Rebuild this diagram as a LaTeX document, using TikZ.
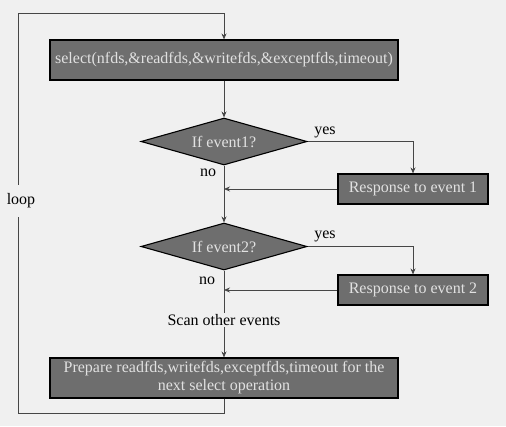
\documentclass[tikz,border=0pt]{standalone}
\usepackage{fontspec}
\setmainfont{Liberation Serif}
\usetikzlibrary{shapes.geometric,arrows.meta}
\definecolor{pagebg}{RGB}{240,240,240}
\definecolor{boxfill}{RGB}{110,110,110}
\definecolor{boxtext}{RGB}{225,225,225}
\definecolor{wire}{RGB}{70,70,70}

\begin{document}
\begin{tikzpicture}[x=1pt,y=-1pt,font=\fontsize{16}{17}\selectfont,
		opbox/.style={draw=black,line width=1.1pt,fill=boxfill,text=boxtext,rectangle,inner sep=2pt},
		testbox/.style={draw=black,line width=1.1pt,fill=boxfill,text=boxtext,diamond,aspect=3.5,inner sep=0pt,minimum width=166pt,minimum height=47pt},
		wire/.style={draw=wire,line width=0.8pt},
		tip/.style={-{Stealth[length=6pt,width=5pt]}}]
		\fill[pagebg] (0,0) rectangle (506,426);
		\useasboundingbox (0,0) rectangle (506,426);
		% boxes
		\node[opbox,minimum width=348pt,minimum height=40pt] (sel) at (224,60) {select(nfds,\&readfds,\&writefds,\&exceptfds,timeout)};
		\node[testbox] (ev1) at (224,141.5) {If event1?};
		\node[opbox,minimum width=150pt,minimum height=30pt] (resp1) at (413,189) {Response to event 1};
		\node[testbox] (ev2) at (224,246.5) {If event2?};
		\node[opbox,minimum width=150pt,minimum height=30pt] (resp2) at (413,290) {Response to event 2};
		\node[inner sep=1pt] (scan) at (224,320) {Scan other events};
		\node[opbox,minimum width=348pt,minimum height=40pt,align=center,font=\fontsize{16}{18}\selectfont] (prep) at (224,378) {Prepare readfds,writefds,exceptfds,timeout for the\\next select operation};
		% labels
		\node (yes1) at (325,132) {yes};
		\node (no1) at (208,173) {no};
		\node (yes2) at (325,236) {yes};
		\node (no2) at (207,281) {no};
		% wires
		\draw[wire,tip] (sel) -- (ev1);
		\draw[wire,tip] (ev1.east) -| (resp1.north);
		\draw[wire,tip] (resp1.west) -- (ev1.south |- resp1.west);
		\draw[wire,tip] (ev1.south) -- (ev2.north);
		\draw[wire,tip] (ev2.east) -| (resp2.north);
		\draw[wire,tip] (resp2.west) -- (ev2.south |- resp2.west);
		\draw[wire] (ev2.south) -- (scan.north);
		\draw[wire,tip] (scan.south) -- (prep.north);
		\coordinate (lbot) at (18,413);
		\coordinate (ltop) at (18,13);
		\draw[wire,tip] (prep.south) |- (lbot) -- (ltop) -| (sel.north);
		\node[fill=pagebg,inner xsep=1pt,inner ysep=9pt] (loop) at (21,201) {loop};
\end{tikzpicture}
\end{document}
